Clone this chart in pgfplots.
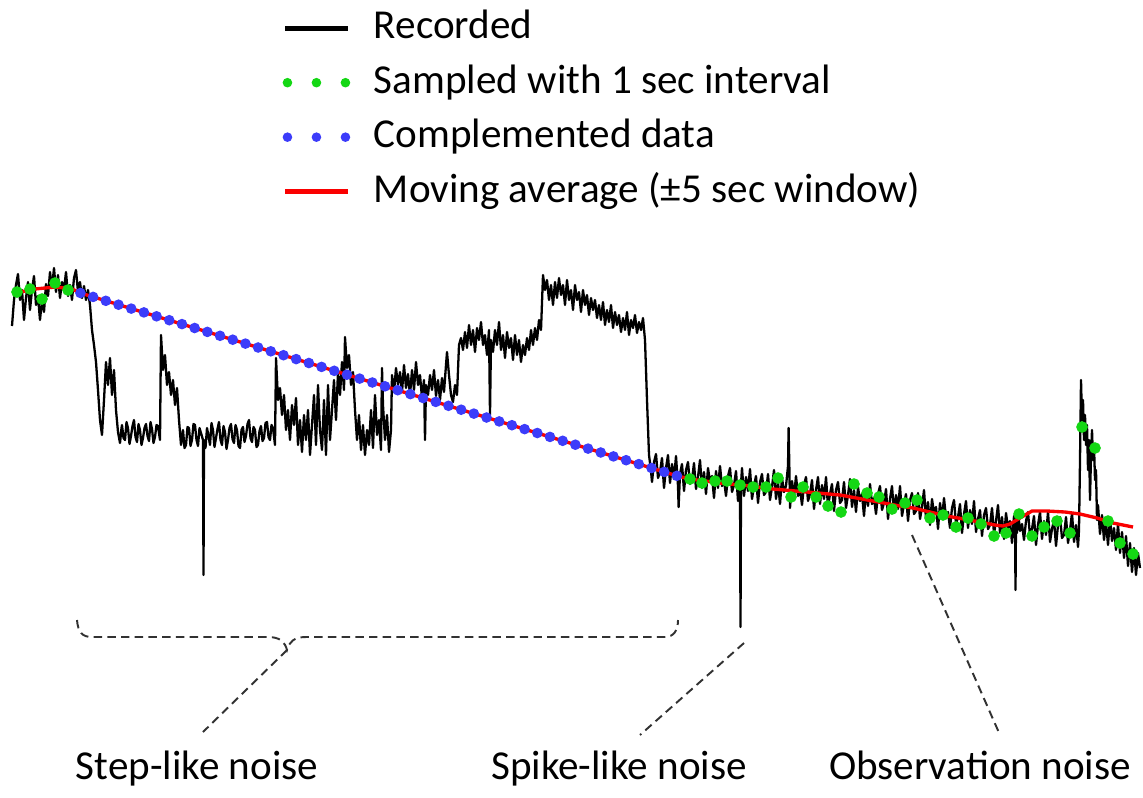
\documentclass[border=0pt]{standalone}
\usepackage{pgfplots}
\pgfplotsset{compat=1.18}
\usepackage{pgfplotstable}
\usepackage{fontspec}
\setmainfont{Carlito}

\definecolor{sampgreen}{RGB}{20,215,20}
\definecolor{compblue}{RGB}{60,60,250}
\definecolor{avgred}{RGB}{250,0,0}
\definecolor{annot}{RGB}{50,50,50}

% recorded signal (time in px, value in px, downwards)
\pgfplotstableread{
t y
12 326
14 300
16 285
18 274
20 300
22 290
24 320
26 298
28 282
30 310
32 290
34 276
36 305
38 296
40 320
42 300
44 312
46 284
48 296
50 272
52 288
54 268
56 292
58 275
60 298
62 282
64 290
66 272
68 296
70 285
72 300
74 278
76 270
78 292
80 282
82 298
84 286
86 300
88 290
90 305
92 330
94 345
96 362
98 390
100 420
102 435
104 400
106 362
108 385
110 358
112 395
114 370
116 410
118 432
120 443
121.5 428
122 425
123.5 438
125 440
126.5 422
128 428
129.5 444
131 436
132.5 426
134 420
135.5 437
137 442
138.5 424
140 430
141.5 445
143 438
144.5 428
146 424
147.5 436
149 441
150.5 422
152 429
153.5 443
155 437
156.5 425
158 426
160 440
161 335
163 370
165 355
167 385
169 372
171 395
173 380
175 405
177 388
179 420
181 445
183 430
184.5 448
186 445
187.5 427
189 428
190.5 446
192 440
193.5 424
195 425
196.5 440
198 446
199.5 428
201 433
203 440
203.5 575
204 440
205.5 448
207 428
208.5 436
210 445
211.5 423
213 430
214.5 447
216 438
217.5 429
219 422
220.5 440
222 445
223.5 426
225 432
226.5 449
228 440
229.5 428
231 424
232.5 439
234 443
235.5 425
237 430
238.5 446
240 448
241.5 430
243 427
244.5 442
246 436
247.5 424
249 420
250.5 438
252 442
253.5 427
255 430
256.5 447
258 445
259.5 431
261 426
262.5 441
264 438
265.5 423
267 422
268.5 437
270 440
271.5 425
273 428
275 445
276 358
278 400
280 388
282 415
284 395
286 430
288 410
290 440
292 405
294 425
296 398
298 445
300 420
302 452
304 415
306 440
308 410
310 455
312 425
314 395
316 445
318 385
320 430
322 450
324 400
326 455
328 385
330 440
332 410
334 380
336 420
338 372
340 395
342 362
344 390
345 337
347 368
349 355
351 385
353 372
355 410
357 440
359 415
361 450
363 425
365 455
367 430
369 445
371 410
373 448
375 395
377 435
379 420
381 450
382 368
383 405
385 440
387 415
389 452
391 430
392 375
394 392
396 368
398 385
400 372
402 392
404 365
406 388
408 374
410 395
412 370
414 390
416 362
418 385
420 375
422 398
424 380
425 440
426 385
428 395
430 375
432 390
434 370
436 396
438 380
440 400
442 378
444 392
446 365
447 352
449 375
451 395
453 402
455 385
457 395
459 345
461 338
463 350
465 332
467 348
469 325
471 345
473 330
475 352
477 328
479 340
481 322
483 345
485 335
487 355
489 330
490 415
491 340
493 352
495 330
497 345
499 322
501 350
503 335
505 358
507 332
509 348
511 338
513 360
515 335
517 355
519 340
521 362
523 345
525 355
527 338
529 350
531 330
533 345
535 328
537 340
539 320
541 330
543 275
545 290
547 280
549 300
551 285
553 305
555 282
557 298
559 278
561 295
563 285
565 305
567 280
569 300
571 290
573 310
575 285
577 300
579 292
581 312
583 290
585 305
587 295
589 315
591 298
593 310
595 300
597 318
599 305
601 320
603 302
605 325
607 310
609 322
611 305
613 328
615 312
617 325
619 315
621 332
623 318
625 330
627 312
629 335
631 320
633 328
635 315
637 333
639 322
641 330
643 318
645 340
647 400
649 455
651 471
652 482
654 462
656 454
658 478
660 472
662 458
664 488
666 468
668 455
670 483
672 464
674 479
676 456
678 486
678.6 507
680 474
682 464
684 491
686 470
688 462
690 484
692 480
694 463
696 489
698 477
700 460
702 488
704 472
706 494
708 468
710 482
712 476
714 498
716 471
718 488
720 466
722 486
724 480
726 496
728 476
730 468
732 492
734 485
736 471
738 501
740 481
740.5 627
741 484
742 468
744 496
746 477
748 491
750 469
752 499
754 486
756 476
758 503
760 482
762 474
764 495
766 492
768 474
770 500
772 487
774 470
776 499
778 482
780 504
782 478
784 492
786 486
788 466
788.6 428
789.4 470
790 508
792 481
794 497
796 476
798 496
800 489
802 505
804 485
806 477
808 501
810 494
812 480
814 509
816 490
818 477
820 504
822 485
824 499
826 477
828 507
830 494
832 484
834 511
836 490
838 482
840 503
842 500
844 482
846 508
848 495
850 479
852 507
854 490
856 512
858 487
860 501
862 494
864 516
866 490
868 506
870 484
872 504
874 498
876 514
878 494
880 486
882 510
884 503
886 489
888 519
890 499
892 486
894 513
896 495
898 509
900 486
902 516
904 504
906 494
908 521
910 500
912 493
914 514
916 511
918 493
920 519
922 507
924 490
926 519
928 502
930 525
932 499
934 513
936 507
938 529
940 503
942 519
944 498
946 518
948 512
950 528
952 508
954 500
956 524
958 517
960 504
962 533
964 514
966 501
968 528
970 510
972 524
974 501
976 532
978 519
980 510
982 536
984 515
986 508
988 529
990 525
992 508
994 534
996 521
998 505
1000 533
1002 517
1004 539
1006 513
1008 528
1010 521
1012 543
1014 516
1015 520
1015.5 590
1016 522
1017 533
1018 511
1020 531
1022 524
1024 540
1026 521
1028 512
1030 536
1032 529
1034 516
1036 545
1038 525
1040 512
1042 539
1044 521
1046 535
1048 512
1050 542
1052 529
1054 520
1056 546
1058 525
1060 517
1062 538
1064 535
1066 517
1068 543
1070 530
1072 513
1074 542
1076 525
1078 547
1079 530
1080 460
1081 380
1082 420
1083 400
1084 440
1085 415
1086 445
1087 425
1088 470
1089 440
1090 500
1091 455
1092 430
1093 460
1094 445
1095 480
1096 470
1097 520
1098 505
1100 534
1102 515
1104 540
1106 522
1108 545
1110 518
1112 541
1114 528
1116 550
1118 524
1120 553
1122 532
1124 558
1126 536
1128 566
1130 543
1132 572
1134 548
1136 575
1138 553
1140 568
}\recorded

% samples taken every second
\pgfplotstableread{
t y
17 292
30 289
42 299
55 283
68 290
690 479
702 483
715 481
727 481
740 485
753 487
766 487
778 478
791 497
803 487
816 497
828 506
841 512
854 484
867 493
879 497
892 509
905 503
917 500
930 518
943 515
956 527
968 518
981 524
994 536
1006 533
1019 514
1032 536
1044 527
1057 521
1070 533
1082 427
1095 448
1108 521
1120 543
1133 554
}\sampled

% complemented samples across the noisy stretch
\pgfplotstableread{
t y
80.45 293.0
93.14 296.9
105.83 300.8
118.52 304.7
131.21 308.6
143.90 312.4
156.59 316.3
169.28 320.2
181.97 324.1
194.66 328.0
207.35 331.9
220.04 335.8
232.73 339.7
245.42 343.6
258.11 347.5
270.80 351.3
283.49 355.2
296.18 359.1
308.87 363.0
321.56 366.9
334.25 370.8
346.94 374.7
359.63 378.6
372.32 382.5
385.01 386.3
397.70 390.2
410.39 394.1
423.08 398.0
435.77 401.9
448.46 405.8
461.15 409.7
473.84 413.6
486.53 417.5
499.22 421.4
511.91 425.2
524.60 429.1
537.29 433.0
549.98 436.9
562.67 440.8
575.36 444.7
588.05 448.6
600.74 452.5
613.43 456.4
626.12 460.2
638.81 464.1
651.50 468.0
664.19 471.9
676.88 475.8
}\complemented

% moving average over a +-5 s window
\pgfplotstableread{
t y
15 293
25 291
35 289
45 288
55 287
65 288
72 289
80.45 293
676.88 475.8
690 479
720 483
750 486
773 489
807 492
840 495
873 501
900 506
913 508
947 516
980 522
995 525
1003 526
1010 524
1020 518
1032 511
1047 511
1065 512
1080 514
1097 518
1113 523
1133 527
}\average

\begin{document}
\begin{tikzpicture}
\begin{axis}[
  scale only axis,
  width=11.43cm, height=7.88cm,
  xmin=0, xmax=1143, ymin=0, ymax=788,
  y dir=reverse,
  hide axis,
  clip=false,
  legend cell align=left,
  legend style={
    at={(axis cs:282,8)}, anchor=north west,
    draw=none, fill=none, inner sep=0pt,
    font=\fontsize{11.7}{13.5}\selectfont,
    row sep=4.4pt,
    nodes={inner sep=0pt, text height=8.5pt, text depth=2.6pt},
    /tikz/every odd column/.append style={column sep=2.3mm},
  },
]
\path (rel axis cs:0,0) rectangle (rel axis cs:1,1);

\addlegendimage{black, legend image code/.code={\draw[line width=1.4pt] (0cm,0cm) -- (0.63cm,0cm);}}
\addlegendentry{Recorded}
\addlegendimage{sampgreen, legend image code/.code={%
  \fill (0.02cm,0cm) circle (1.15pt); \fill (0.31cm,0cm) circle (1.15pt); \fill (0.60cm,0cm) circle (1.15pt);}}
\addlegendentry{Sampled with 1 sec interval}
\addlegendimage{compblue, legend image code/.code={%
  \fill (0.02cm,0cm) circle (1.15pt); \fill (0.31cm,0cm) circle (1.15pt); \fill (0.60cm,0cm) circle (1.15pt);}}
\addlegendentry{Complemented data}
\addlegendimage{avgred, legend image code/.code={\draw[line width=1.4pt] (0cm,0cm) -- (0.63cm,0cm);}}
\addlegendentry{Moving average (±5 sec window)}

\addplot[black, line width=0.65pt, line join=round, forget plot] table[x=t, y=y] {\recorded};
\addplot[avgred, line width=0.95pt, forget plot] table[x=t, y=y] {\average};
\addplot[only marks, mark=*, mark size=1.3pt, compblue, forget plot] table[x=t, y=y] {\complemented};
\addplot[only marks, mark=*, mark size=1.45pt, sampgreen, forget plot] table[x=t, y=y] {\sampled};

% annotation brackets and leader lines
\begin{scope}[annot, line width=0.55pt, dash pattern=on 2.4pt off 1.5pt]
  \draw (axis cs:77,620) .. controls (axis cs:78,632) and (axis cs:82,637) .. (axis cs:92,637)
     -- (axis cs:268,637) .. controls (axis cs:280,637) and (axis cs:285,642) .. (axis cs:287,650)
     .. controls (axis cs:289,642) and (axis cs:294,637) .. (axis cs:306,637)
     -- (axis cs:665,637) .. controls (axis cs:674,637) and (axis cs:678,630) .. (axis cs:678,620);
  \draw (axis cs:287,650) -- (axis cs:203,732);
  \draw (axis cs:744,643) -- (axis cs:640,735);
  \draw (axis cs:912,535) -- (axis cs:1000,735);
\end{scope}

\begin{scope}[font=\fontsize{11.7}{13.5}\selectfont]
  \node[anchor=base] at (axis cs:197,779) {Step-like noise};
  \node[anchor=base] at (axis cs:619,779) {Spike-like noise};
  \node[anchor=base] at (axis cs:980,779) {Observation noise};
\end{scope}
\end{axis}
\end{tikzpicture}
\end{document}
